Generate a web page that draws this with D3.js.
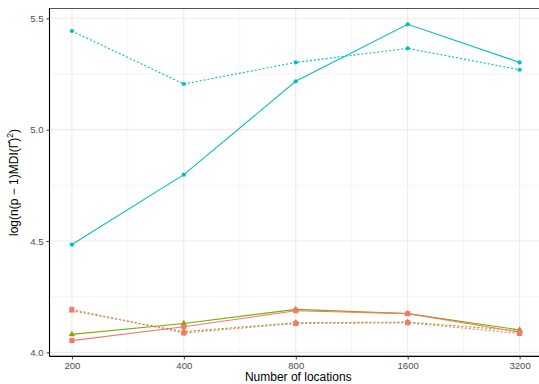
<!DOCTYPE html>
<html>
<head>
<meta charset="utf-8">
<script src="https://cdn.jsdelivr.net/npm/d3@7"></script>
<style>
  body { margin: 0; background: #fff; }
  svg { display: block; font-family: "Liberation Sans", Arial, sans-serif; }
</style>
</head>
<body>
<svg id="chart" width="539" height="384"></svg>
<script>
// x values (number of locations), log2 spaced
const locations = [200, 400, 800, 1600, 3200];
const xTicks = [200, 400, 800, 1600, 3200];
const yTicks = [4.0, 4.5, 5.0, 5.5];

// series
const cyanSolid  = [4.484, 4.798, 5.217, 5.473, 5.302];
const cyanDotted = [5.443, 5.205, 5.302, 5.365, 5.269];
const greenSolid = [4.081, 4.130, 4.193, 4.174, 4.101];
const greenDotted = [4.187, 4.093, 4.133, 4.136, 4.097];
const redSolid   = [4.053, 4.115, 4.187, 4.174, 4.091];
const redDotted  = [4.193, 4.087, 4.130, 4.133, 4.085];

const series = [
  { vals: greenSolid,  color: "#7CAE00", dash: null,  shape: "triangle" },
  { vals: greenDotted, color: "#7CAE00", dash: "2,2", shape: "triangle" },
  { vals: redSolid,    color: "#F8766D", dash: null,  shape: "square" },
  { vals: redDotted,   color: "#F8766D", dash: "2,2", shape: "square" },
  { vals: cyanSolid,   color: "#00BFC4", dash: null,  shape: "circle" },
  { vals: cyanDotted,  color: "#00BFC4", dash: "2,2", shape: "circle" }
];

const svg = d3.select("#chart");
const pLeft = 49.5, pRight = 542, pTop = 8.5, pBottom = 356.4;

const allVals = series.flatMap(s => s.vals);
const yMin = d3.min(allVals), yMax = d3.max(allVals);
const yPad = (yMax - yMin) * 0.05;

const x = d3.scaleLog().base(2)
  .domain([200 / Math.pow(2, 0.2), 3200 * Math.pow(2, 0.2)])
  .range([pLeft, pRight]);
const y = d3.scaleLinear()
  .domain([yMin - yPad, yMax + yPad])
  .range([pBottom, pTop]);

const g = svg.append("g");

// minor grid
const xMinor = d3.pairs(xTicks).map(p => Math.sqrt(p[0] * p[1]));
const yMinor = d3.pairs(yTicks).map(p => (p[0] + p[1]) / 2);
g.selectAll(".xminor").data(xMinor).enter().append("line")
  .attr("x1", d => x(d)).attr("x2", d => x(d))
  .attr("y1", pTop).attr("y2", pBottom)
  .attr("stroke", "#ebebeb").attr("stroke-width", 0.55);
g.selectAll(".yminor").data(yMinor).enter().append("line")
  .attr("x1", pLeft).attr("x2", pRight)
  .attr("y1", d => y(d)).attr("y2", d => y(d))
  .attr("stroke", "#ebebeb").attr("stroke-width", 0.55);
// major grid
g.selectAll(".xmajor").data(xTicks).enter().append("line")
  .attr("x1", d => x(d)).attr("x2", d => x(d))
  .attr("y1", pTop).attr("y2", pBottom)
  .attr("stroke", "#ebebeb").attr("stroke-width", 1.1);
g.selectAll(".ymajor").data(yTicks).enter().append("line")
  .attr("x1", pLeft).attr("x2", pRight)
  .attr("y1", d => y(d)).attr("y2", d => y(d))
  .attr("stroke", "#ebebeb").attr("stroke-width", 1.1);

// panel border
g.append("rect")
  .attr("x", pLeft).attr("y", pTop)
  .attr("width", pRight - pLeft).attr("height", pBottom - pTop)
  .attr("fill", "none").attr("stroke", "#555").attr("stroke-width", 1);

// lines and points
const line = d3.line()
  .x((d, i) => x(locations[i]))
  .y(d => y(d));

series.forEach(s => {
  g.append("path")
    .attr("d", line(s.vals))
    .attr("fill", "none")
    .attr("stroke", s.color)
    .attr("stroke-width", 1.1)
    .attr("stroke-dasharray", s.dash);

  const sym = s.shape === "circle" ? d3.symbolCircle
    : s.shape === "square" ? d3.symbolSquare : d3.symbolTriangle;
  const size = s.shape === "circle" ? 14 : s.shape === "square" ? 26 : 18;
  g.selectAll(null).data(s.vals).enter().append("path")
    .attr("d", d3.symbol().type(sym).size(size))
    .attr("transform", (d, i) => `translate(${x(locations[i])},${y(d)})`)
    .attr("fill", s.color);
});

// axes
const xAxis = d3.axisBottom(x).tickValues(xTicks).tickFormat(d3.format("d"))
  .tickSize(3).tickPadding(3);
const yAxis = d3.axisLeft(y).tickValues(yTicks).tickFormat(d3.format(".1f"))
  .tickSize(3).tickPadding(3);

const xg = svg.append("g").attr("transform", `translate(0,${pBottom})`).call(xAxis);
const yg = svg.append("g").attr("transform", `translate(${pLeft},0)`).call(yAxis);
[xg, yg].forEach(a => {
  a.select(".domain").attr("stroke", "#000").attr("stroke-width", 1.1);
  a.selectAll(".tick line").attr("stroke", "#333");
  a.selectAll(".tick text").attr("fill", "#4d4d4d")
    .style("font-size", "9.6px").style("font-family", "Liberation Sans, Arial, sans-serif");
});
xg.select(".domain").attr("d", `M${pLeft},0H${pRight}`);
yg.select(".domain").attr("d", `M0,${pBottom}V${pTop}`);

// titles
svg.append("text")
  .attr("x", (pLeft + 539) / 2 + 4).attr("y", 381)
  .attr("text-anchor", "middle")
  .style("font-size", "12px")
  .text("Number of locations");

const yt = svg.append("text")
  .attr("transform", `translate(18,${(pTop + pBottom) / 2}) rotate(-90)`)
  .attr("text-anchor", "middle")
  .style("font-size", "12px");
yt.append("tspan").text("log(n(p \u2212 1)MDI(\u0393\u0302)");
yt.append("tspan").attr("dy", -5).style("font-size", "8.5px").text("2");
yt.append("tspan").attr("dy", 5).text(")");
</script>
</body>
</html>
